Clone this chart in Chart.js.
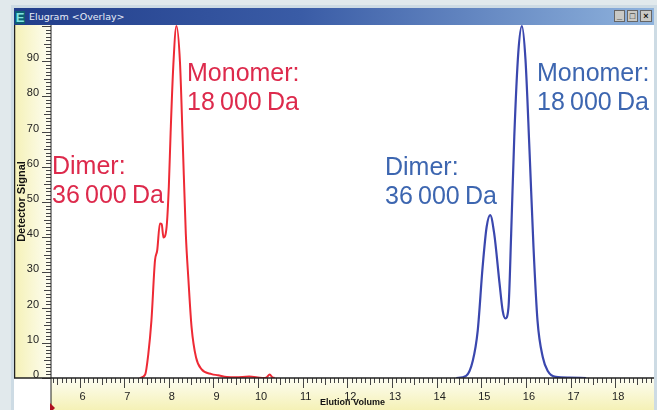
<!DOCTYPE html>
<html><head><meta charset="utf-8">
<script src="https://cdn.jsdelivr.net/npm/chart.js@4"></script>
<style>
html,body{margin:0;padding:0;background:#e1e9ec;overflow:hidden}
#wrap{position:relative;width:657px;height:410px;overflow:hidden;background:#e1e9ec}
#win{position:absolute;left:11px;top:5px;width:646px;height:405px;background:#cddbe4}
#title{position:absolute;left:14px;top:8px;width:640px;height:17px;background:linear-gradient(90deg,#213d8a 0%,#3a5ca6 45%,#8fb3dd 100%);color:#e8eef8;line-height:17px}
#title span{position:absolute;left:15px;top:0;font:9.5px/17px "DejaVu Sans",sans-serif}
#icon{position:absolute;left:1px;top:3px;width:10px;height:13px;background:#0d5f73;color:#7fe6e0;font:bold 13px "Liberation Sans";line-height:13px;text-align:center}
.b{position:absolute;top:2px;width:11px;height:12px;background:#c9c9c5;border:1px solid #666;box-sizing:border-box;color:#111;font:bold 9px "Liberation Sans";line-height:10px;text-align:center}
#chartbox{position:absolute;left:14px;top:25px;width:640px;height:385px;background:#fff}
canvas{display:block}
.a{position:absolute;font:25px/29px "Liberation Sans",Arial,sans-serif;word-spacing:-1.7px;white-space:nowrap}
.r{color:#dd2a4c}.bl{color:#3d66b0}
#tri{position:absolute;left:50px;top:403px;width:0;height:0;border-left:5px solid #b01020;border-top:5px solid transparent;border-bottom:5px solid transparent}
</style></head><body>
<div id="wrap">
<div id="win"></div>
<div id="title"><div id="icon">E</div><span>Elugram &lt;Overlay&gt;</span>
<div class="b" style="left:600px">_</div><div class="b" style="left:613px">□</div><div class="b" style="left:626px;width:12px">×</div></div>
<div id="chartbox"><canvas id="c" width="640" height="385"></canvas></div>
<div class="a r" style="left:187px;top:58px">Monomer:<br>18 000 Da</div>
<div class="a r" style="left:52px;top:151px">Dimer:<br>36 000 Da</div>
<div class="a bl" style="left:385px;top:152px">Dimer:<br>36 000 Da</div>
<div class="a bl" style="left:537px;top:58px">Monomer:<br>18 000 Da</div>
<div id="tri"></div>
</div>
<script>
const redVolume=[7.35,7.47,7.54,7.61,7.69,7.74,7.80,7.84,7.88,7.95,8.00,8.04,8.10,8.17,8.25,8.31,8.38,8.44,8.51,8.61,8.73,8.96,9.1,9.3,9.5,9.8,10.1,10.18,10.26,10.32,10.37];
const redSignal=[0,1,6.8,16.3,33.4,36.3,43.9,43.7,39.9,42.9,54.4,69.7,88.7,100,89.6,67.7,41.1,27.7,14.4,5.8,2.5,1.1,0.8,0.3,0.2,0.4,0,0.1,1,0.2,0];
const blueVolume=[14.44,14.66,14.81,14.92,15.03,15.12,15.20,15.29,15.41,15.48,15.54,15.61,15.67,15.74,15.83,15.91,15.99,16.08,16.17,16.26,16.38,16.49,16.67,16.97,17.35];
const blueSignal=[0,0.6,4.9,13.4,31.5,42.9,46.3,41,26.8,19.1,16.9,20.1,41,68.7,92.5,100,90.6,64.9,37.2,16.3,5.8,2,0.3,0.1,0];
const xMajorTicks=[6,7,8,9,10,11,12,13,14,15,16,17,18];
const yMajorTicks=[0,10,20,30,40,50,60,70,80,90];
const xAxisTitle="Elution Volume";
const yAxisTitle="Detector Signal";

const pts=(xs,ys)=>xs.map((x,i)=>({x,y:ys[i]}));
const noPad=s=>{s.paddingTop=s.paddingBottom=s.paddingLeft=s.paddingRight=0;};
const rulers={id:'rulers',
 beforeDraw(ch){
  const {ctx,chartArea:a}=ch;
  let g=ctx.createLinearGradient(0,a.bottom,0,385);
  g.addColorStop(0,'#fdfdf2');g.addColorStop(1,'#f5f1b6');
  ctx.fillStyle=g;ctx.fillRect(a.left,a.bottom,a.right-a.left,385-a.bottom);
  g=ctx.createLinearGradient(0,0,a.left,0);
  g.addColorStop(0,'#f5f1b6');g.addColorStop(1,'#fdfdf2');
  ctx.fillStyle=g;ctx.fillRect(0,0,a.left,a.bottom);
 },
 afterDatasetsDraw(ch){
  const {ctx,chartArea:a,scales:{x,y}}=ch;
  ctx.save();ctx.strokeStyle='#444';ctx.lineWidth=1;
  ctx.beginPath();
  for(let i=Math.ceil(x.min*10);i<=x.max*10;i++){
   const p=Math.round(x.getPixelForValue(i/10))+.5;
   ctx.moveTo(p,a.bottom);ctx.lineTo(p,a.bottom+(i%10===0?10:i%5===0?7:5));
  }
  for(let v=0;v<=y.max;v++){
   const p=Math.round(y.getPixelForValue(v))+.5;
   ctx.moveTo(a.left,p);ctx.lineTo(a.left-(v%10===0?9:v%5===0?7:5),p);
  }
  ctx.stroke();
  ctx.strokeStyle='#222';ctx.lineWidth=1.5;ctx.beginPath();
  ctx.moveTo(0.5,0);ctx.lineTo(0.5,a.bottom);ctx.lineTo(a.right,a.bottom);ctx.stroke();
  ctx.lineWidth=1;ctx.beginPath();ctx.moveTo(a.left,0);ctx.lineTo(a.left,385);ctx.stroke();
  ctx.restore();
 }};
new Chart(document.getElementById('c'),{
 type:'scatter',
 data:{datasets:[
  {label:'Red',data:pts(redVolume,redSignal),showLine:true,borderColor:'#ee2a35',borderWidth:2,pointRadius:0,cubicInterpolationMode:'monotone'},
  {label:'Blue',data:pts(blueVolume,blueSignal),showLine:true,borderColor:'#3a47ae',borderWidth:2.2,pointRadius:0,cubicInterpolationMode:'monotone'}
 ]},
 options:{responsive:false,animation:false,
  layout:{padding:0},
  plugins:{legend:{display:false},tooltip:{enabled:false}},
  scales:{
   x:{type:'linear',min:5.36,max:18.87,
    afterBuildTicks(s){s.ticks=xMajorTicks.map(value=>({value}));},
    afterFit(s){s.height=32;noPad(s);},
    grid:{display:false,drawTicks:false},border:{display:false},
    ticks:{maxRotation:0,autoSkip:false,padding:12,labelOffset:3,color:'#222',font:{family:'"Liberation Sans Narrow","Liberation Sans"',size:11},callback:v=>v},
    title:{display:true,text:xAxisTitle,color:'#111',padding:{top:0,bottom:2},font:{family:'"Liberation Sans"',size:9,weight:'bold'}}},
   y:{type:'linear',min:0,max:100.3,
    afterBuildTicks(s){s.ticks=yMajorTicks.map(value=>({value}));},
    afterFit(s){s.width=37;noPad(s);},
    grid:{display:false,drawTicks:false},border:{display:false},
    ticks:{autoSkip:false,padding:12,labelOffset:-3,color:'#222',font:{family:'"Liberation Sans Narrow","Liberation Sans"',size:11},callback:v=>v},
    title:{display:true,text:yAxisTitle,color:'#111',padding:{top:1,bottom:0},font:{family:'"Liberation Sans"',size:11,weight:'bold'}}}
  }},
 plugins:[rulers]
});
</script>
</body></html>
